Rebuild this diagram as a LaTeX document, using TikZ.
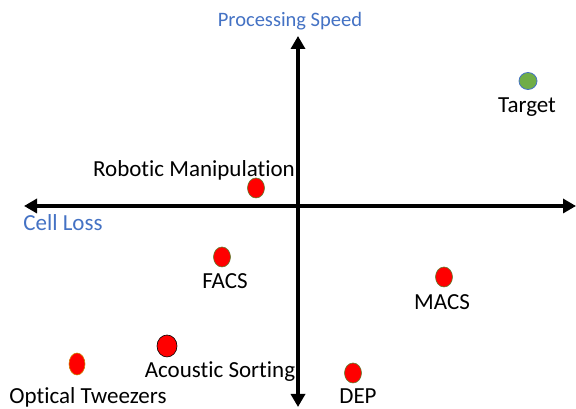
\documentclass[tikz,border=0pt]{standalone}
\usepackage{fontspec}
\setmainfont[Ligatures={NoCommon}]{Carlito}
\usetikzlibrary{arrows.meta,shapes.geometric}
\definecolor{axisblue}{HTML}{4472C4}
\definecolor{dotred}{HTML}{FF0000}
\definecolor{dotgreen}{HTML}{70AD47}
\definecolor{rimolive}{HTML}{5E7E2E}
\tikzset{
  axis/.style={line width=4pt, -{Triangle[length=13pt,width=14pt]}},
  axislabel/.style={text=axisblue, font=\fontsize{23}{25}\selectfont, inner sep=0pt},
  method/.style={text=black, font=\fontsize{23}{25}\selectfont, inner sep=0pt},
  reddot/.style={ellipse, fill=dotred, draw=rimolive, line width=0.6pt, minimum width=17pt, minimum height=20pt, inner sep=0pt},
}
\begin{document}
\begin{tikzpicture}[x=1pt,y=1pt]
\useasboundingbox (0,0) rectangle (576,409);
% axes
\coordinate (o) at (298,203);
\coordinate (top) at (298,373);
\coordinate (bot) at (298,2);
\coordinate (lft) at (24,203);
\coordinate (rgt) at (576,203);
\draw[axis] (o) -- (top);
\draw[axis] (o) -- (bot);
\draw[axis] (o) -- (lft);
\draw[axis] (o) -- (rgt);
% axis titles
\node[axislabel, font=\fontsize{20.5}{22}\selectfont] (speed) at (290,388) {Processing Speed};
\node[axislabel] (loss) at (63,186) {Cell Loss};
% methods
\node[ellipse, fill=dotgreen, draw=axisblue, line width=0.8pt, minimum width=18pt, minimum height=17pt, inner sep=0pt] (target) at (528,328) {};
\node[method] (targetl) at (527,302) {Target};
\node[reddot] (robot) at (256,221) {};
\node[method] (robotl) at (194,239) {Robotic Manipulation};
\node[reddot] (facs) at (222,152) {};
\node[method] (facsl) at (225,128) {FACS};
\node[reddot] (macs) at (444,132) {};
\node[method] (macsl) at (442,107) {MACS};
\node[reddot, draw=black, minimum width=20pt, minimum height=22pt] (acou) at (167,63) {};
\node[method] (acoul) at (220,37) {Acoustic Sorting};
\node[reddot, draw=orange!60!olive, minimum width=16pt, minimum height=22pt] (opt) at (77,45) {};
\node[method] (optl) at (88,12) {Optical Tweezers};
\node[reddot] (dep) at (353,36) {};
\node[method] (depl) at (358,12.5) {DEP};
\end{tikzpicture}
\end{document}
